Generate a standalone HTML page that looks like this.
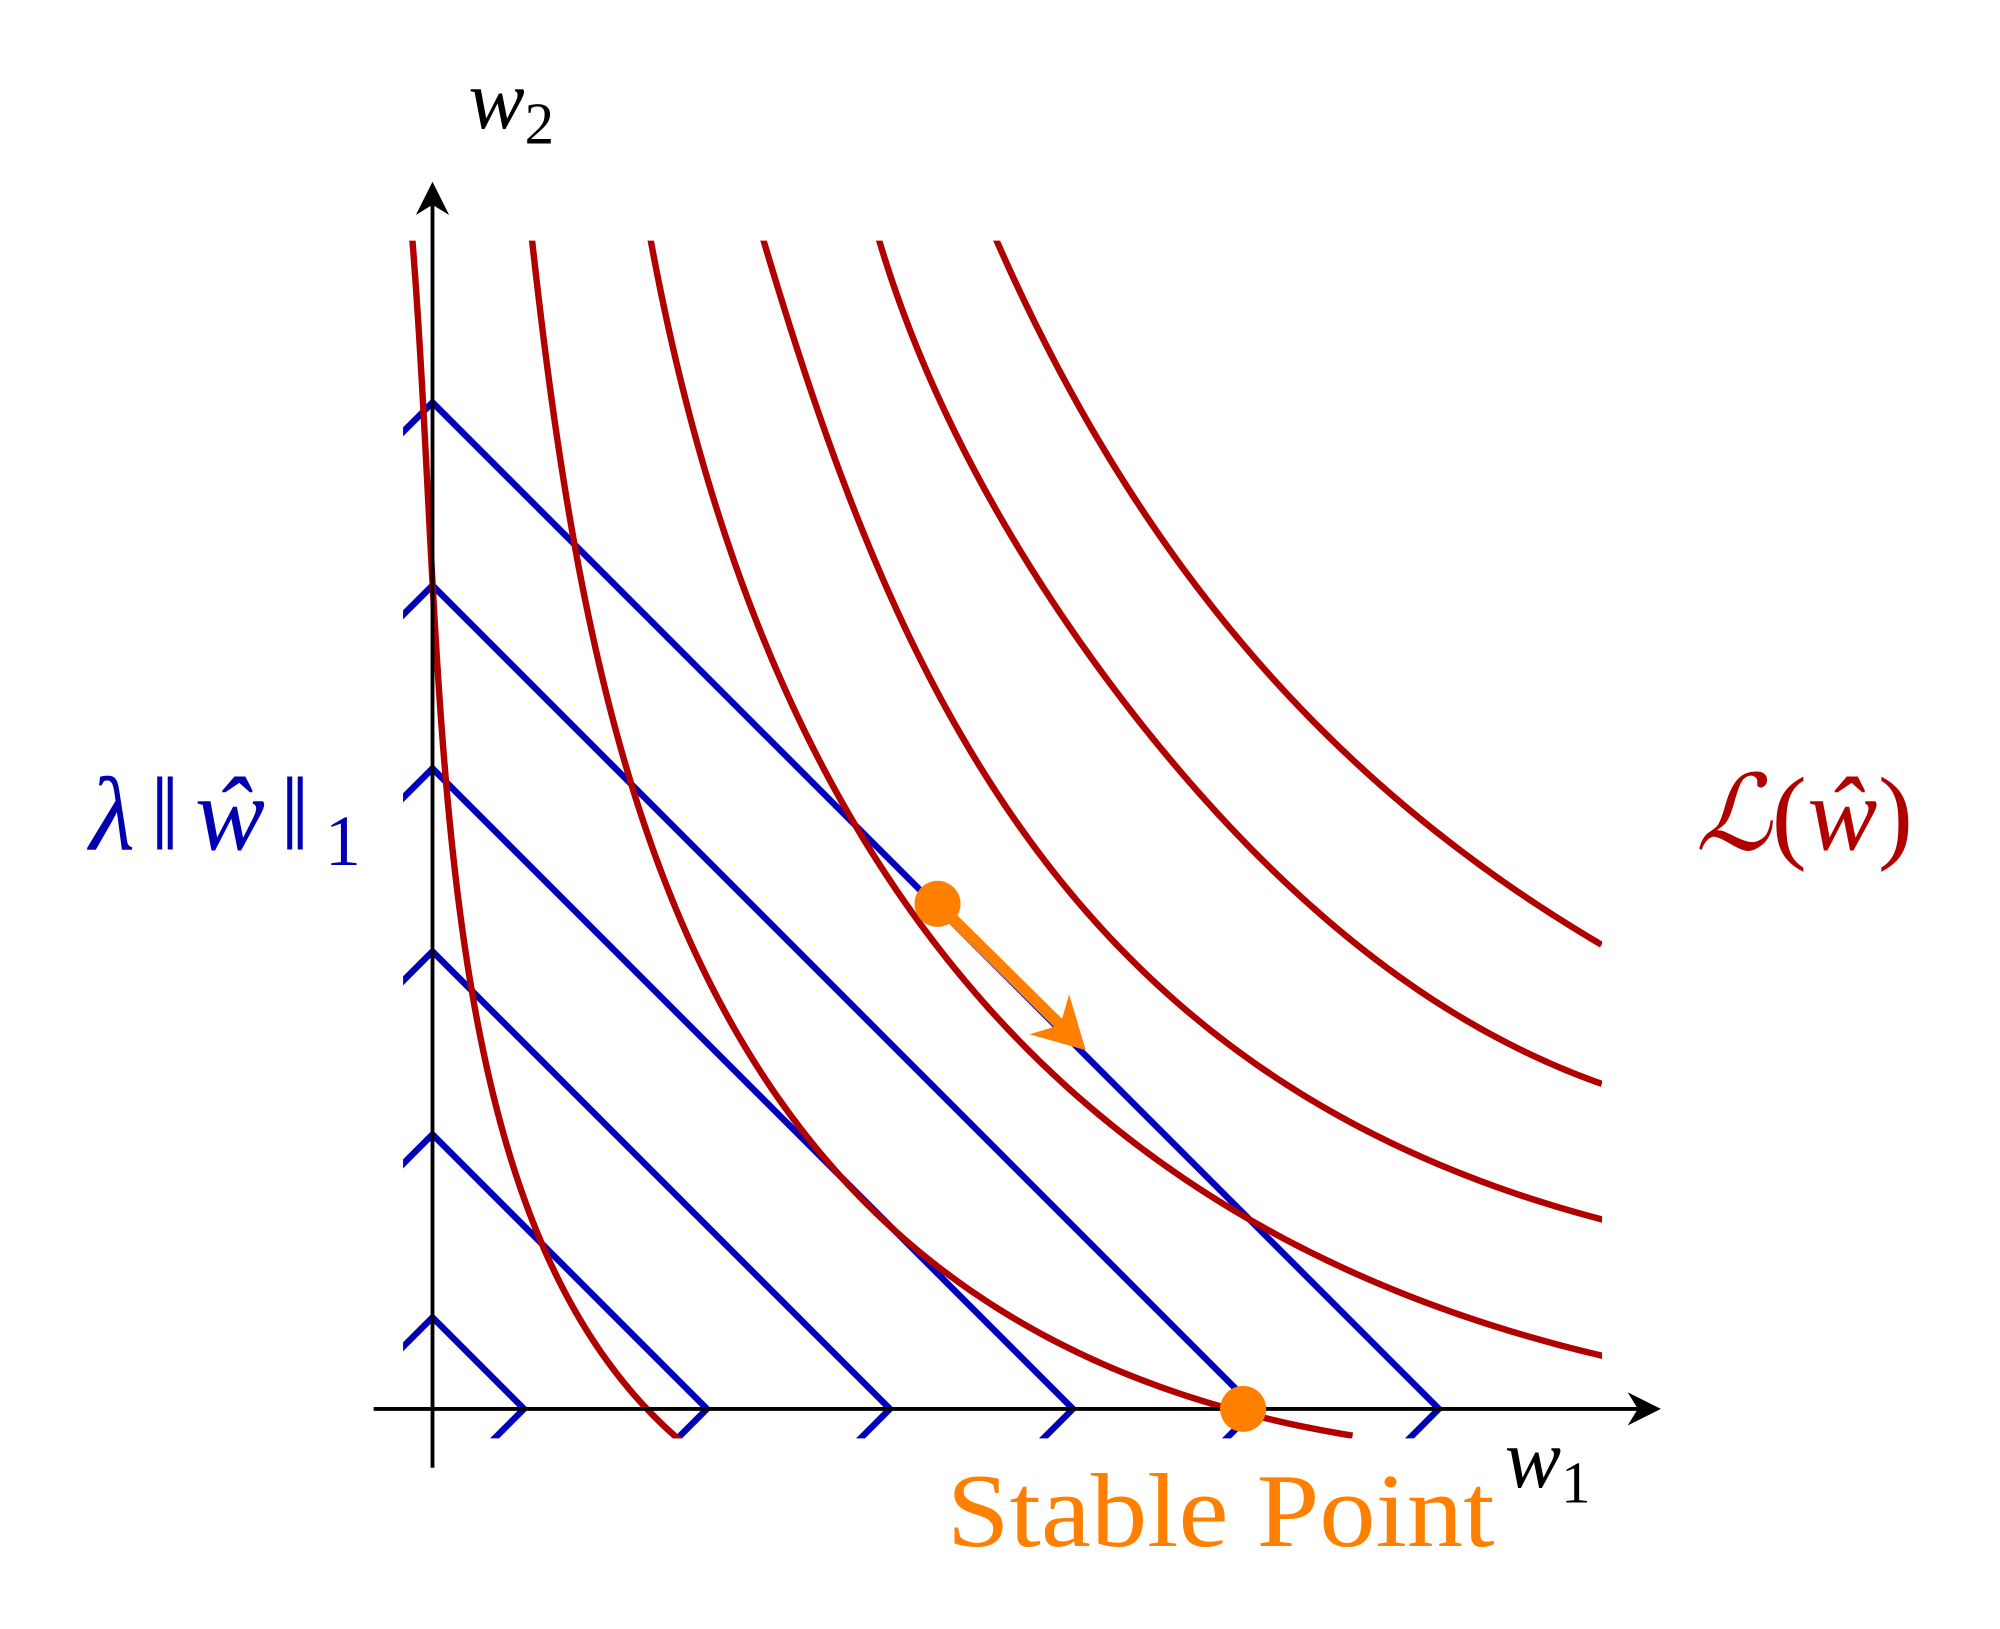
<!DOCTYPE html>
<html><head><meta charset="utf-8"><style>
html,body{margin:0;padding:0;background:#fff;overflow:hidden;width:2000px;height:1629px;}
svg{display:block;overflow:hidden;}
text{font-family:"Liberation Serif",serif;}
</style></head><body>
<svg id="chart" width="2000" height="1629" viewBox="0 0 1563 1273" preserveAspectRatio="none" xmlns="http://www.w3.org/2000/svg">
<defs>
<clipPath id="clip"><rect x="315" y="188" width="945" height="936"/></clipPath>
<clipPath id="clipr"><rect x="290" y="188" width="962" height="936"/></clipPath>
</defs>
<g id="blue" clip-path="url(#clip)"></g>
<g id="red" clip-path="url(#clipr)"></g>
<g>
<line x1="292" y1="1101" x2="1285" y2="1101" stroke="#000" stroke-width="3"/>
<path d="M1298,1101 L1272,1088 L1280,1101 L1272,1114 Z" fill="#000"/>
<line x1="338" y1="1147" x2="338" y2="155" stroke="#000" stroke-width="3"/>
<path d="M338,142 L325,168 L338,160 L351,168 Z" fill="#000"/>
</g>
<g id="orange"></g>
<text x="366" y="100" font-size="66" font-style="italic">w<tspan font-size="46" font-style="normal" dy="12">2</tspan></text>
<text x="1176" y="1162" font-size="66" font-style="italic">w<tspan font-size="46" font-style="normal" dy="12">1</tspan></text>
<text x="70" y="664" font-size="82" fill="#0000b0" textLength="212" lengthAdjust="spacing"><tspan font-style="italic">λ</tspan>‖<tspan font-style="italic">ŵ</tspan>‖<tspan font-size="56" dy="12">1</tspan></text>
<text x="1325" y="664" font-size="82" fill="#b00000" textLength="170" lengthAdjust="spacing"><tspan font-style="italic">ℒ</tspan>(<tspan font-style="italic">ŵ</tspan>)</text>
<text x="740" y="1208" font-size="82" fill="#ff8000" textLength="428" lengthAdjust="spacingAndGlyphs">Stable Point</text>
</svg>
<script>
const levels = [0.5, 1.5, 2.5, 3.5, 4.5, 5.5];
const curve1 = [[-0.108,6.385],[-0.038,5.168],[0.004,4.402],[0.073,3.469],[0.129,2.958],[0.227,2.231],[0.380,1.469],[0.603,0.874],[0.881,0.406],[1.329,-0.160]];
const curve2 = [[0.545,6.385],[0.657,5.462],[0.783,4.699],[0.937,3.937],[1.105,3.385],[1.329,2.699],[1.608,2.147],[1.888,1.720],[2.273,1.259],[2.692,0.832],[3.112,0.497],[3.664,0.217],[4.420,0.042],[4.972,-0.160]];
const curve3 = [[1.189,6.385],[1.461,5.250],[1.792,4.290],[2.156,3.397],[2.554,2.801],[2.951,2.303],[3.448,1.807],[4.110,1.252],[4.441,1.042],[5.434,0.573],[6.364,0.301]];
const curve4 = [[1.808,6.385],[2.056,5.615],[2.322,4.853],[2.620,4.191],[2.984,3.529],[3.448,2.867],[3.978,2.303],[4.606,1.807],[5.269,1.443],[6.364,1.042]];
const curve5 = [[2.438,6.385],[2.719,5.648],[3.117,4.853],[3.613,4.059],[4.110,3.463],[4.772,2.800],[5.434,2.238],[6.362,1.790]];
const curve6 = [[3.083,6.385],[3.547,5.450],[4.110,4.588],[4.772,3.794],[5.434,3.198],[6.362,2.552]];
const lossCurves = [curve1, curve2, curve3, curve4, curve5, curve6];
const startPoint = [2.76, 2.76];
const arrowEnd = [3.57, 1.96];
const stablePoint = [4.43, 0];

const X0 = 338, Y0 = 1101, U = 143;
const sx = u => X0 + u * U;
const sy = v => Y0 - v * U;
const NS = 'http://www.w3.org/2000/svg';
function mk(tag, parent){ const e = document.createElementNS(NS, tag); parent.appendChild(e); return e; }

const blue = document.getElementById('blue');
levels.forEach((c, i) => {
  const p = mk('path', blue);
  
  
  p.setAttribute('d', `M${sx(c)},${sy(0)} L${sx(0)},${sy(c)} L${sx(-c)},${sy(0)} L${sx(0)},${sy(-c)} Z`);
  p.setAttribute('fill', 'none'); p.setAttribute('stroke', '#0000b8'); p.setAttribute('stroke-width', '5');
});

function solve(A, b){
  const n = b.length;
  for (let i = 0; i < n; i++) {
    let m = i;
    for (let r = i+1; r < n; r++) if (Math.abs(A[r][i]) > Math.abs(A[m][i])) m = r;
    [A[i], A[m]] = [A[m], A[i]]; [b[i], b[m]] = [b[m], b[i]];
    for (let r = i+1; r < n; r++) {
      const f = A[r][i] / A[i][i];
      for (let c = i; c < n; c++) A[r][c] -= f * A[i][c];
      b[r] -= f * b[i];
    }
  }
  const x = new Array(n).fill(0);
  for (let i = n-1; i >= 0; i--) {
    let s = b[i];
    for (let c = i+1; c < n; c++) s -= A[i][c] * x[c];
    x[i] = s / A[i][i];
  }
  return x;
}
function fitPath(pts){
  const deg = Math.min(4, pts.length - 2);
  const T = pts.map(([u,v]) => (v - u) / Math.SQRT2);
  const S = pts.map(([u,v]) => (v + u) / Math.SQRT2);
  const n = deg + 1;
  const A = Array.from({length:n}, () => new Array(n).fill(0));
  const b = new Array(n).fill(0);
  T.forEach((t, k) => {
    for (let i = 0; i < n; i++) {
      b[i] += S[k] * Math.pow(t, i);
      for (let j = 0; j < n; j++) A[i][j] += Math.pow(t, i + j);
    }
  });
  const co = solve(A, b);
  const tA = T[0] + 0.15, tB = T[T.length-1] - 0.03;
  let d = '';
  for (let k = 0; k <= 160; k++) {
    const t = tA + (tB - tA) * k / 160;
    let s = 0; for (let i = 0; i < n; i++) s += co[i] * Math.pow(t, i);
    const u = (s - t) / Math.SQRT2, v = (s + t) / Math.SQRT2;
    d += (k ? ' L' : 'M') + sx(u).toFixed(2) + ',' + sy(v).toFixed(2);
  }
  return d;
}
const red = document.getElementById('red');
lossCurves.forEach((pts, i) => {
  const p = mk('path', red);
  
  
  p.setAttribute('d', fitPath(pts));
  p.setAttribute('fill', 'none'); p.setAttribute('stroke', '#b00000'); p.setAttribute('stroke-width', '5');
  p.setAttribute('stroke-linejoin', 'round');
});

const og = document.getElementById('orange');
const ax = sx(startPoint[0]), ay = sy(startPoint[1]), bx = sx(arrowEnd[0]), by = sy(arrowEnd[1]);
const dx = bx - ax, dy = by - ay, L = Math.hypot(dx, dy), ux = dx / L, uy = dy / L;
const ln = mk('line', og);


ln.setAttribute('x1', ax); ln.setAttribute('y1', ay);
ln.setAttribute('x2', bx - ux*20); ln.setAttribute('y2', by - uy*20);
ln.setAttribute('stroke', '#ff8000'); ln.setAttribute('stroke-width', '9');
const hd = mk('path', og);


const bxh = bx - ux*40, byh = by - uy*40, nx = -uy, ny = ux;
hd.setAttribute('d', `M${bx},${by} L${bxh+nx*22},${byh+ny*22} L${bx-ux*28},${by-uy*28} L${bxh-nx*22},${byh-ny*22} Z`);
hd.setAttribute('fill', '#ff8000');
const d1 = mk('circle', og);


d1.setAttribute('cx', ax); d1.setAttribute('cy', ay); d1.setAttribute('r', '18'); d1.setAttribute('fill', '#ff8000');
const d2 = mk('circle', og);


d2.setAttribute('cx', sx(stablePoint[0])); d2.setAttribute('cy', sy(stablePoint[1])); d2.setAttribute('r', '18'); d2.setAttribute('fill', '#ff8000');
</script>
</body></html>
